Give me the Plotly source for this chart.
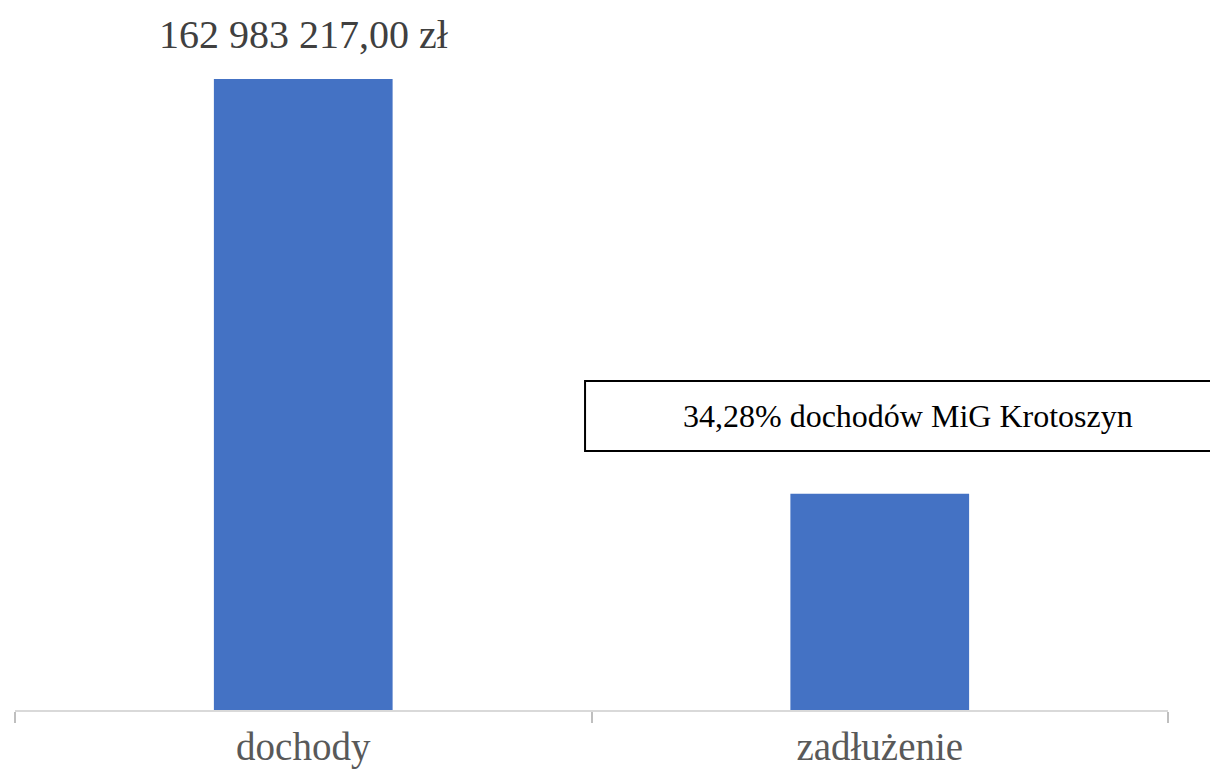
import plotly.graph_objects as go

categories = ["dochody", "zadłużenie"]
values = [162983217.00, 55870647.00]
note_text = "34,28% dochodów MiG Krotoszyn"

def fmt(v):
    return f"{v:,.2f}".replace(",", " ").replace(".", ",") + " zł"

BAR = "#4472C4"
FONT = "Liberation Serif, Times New Roman, serif"

fig = go.Figure()
fig.add_trace(go.Bar(x=categories, y=values, marker=dict(color=BAR, line=dict(width=0)),
                     width=0.31, hoverinfo="skip"))

ymax = values[0] * 690 / 631

fig.add_annotation(x=categories[0], y=values[0], xref="x", yref="y",
                   text=fmt(values[0]), showarrow=False, yanchor="middle", yshift=45,
                   font=dict(family=FONT, size=40, color="#404040"))

fig.add_shape(type="rect", xref="paper", yref="paper",
              x0=0.4944, x1=1.04, y0=0.3754, y1=0.4768,
              line=dict(color="black", width=2), fillcolor="white", layer="above")
fig.add_annotation(x=0.7745, y=0.426, xref="paper", yref="paper", text=note_text,
                   showarrow=False, xanchor="center", yanchor="middle",
                   font=dict(family=FONT, size=32, color="black"))

fig.update_layout(
    width=1210, height=775,
    margin=dict(l=15, r=42, t=20, b=65, autoexpand=False),
    paper_bgcolor="white", plot_bgcolor="white",
    showlegend=False,
    xaxis=dict(showline=True, linecolor="#D9D9D9", linewidth=2, automargin=False,
               ticks="outside", tickson="boundaries", ticklen=11, tickcolor="#BFBFBF", tickwidth=2,
               tickfont=dict(family=FONT, size=39, color="#595959"),
               ticklabelstandoff=1, showgrid=False, zeroline=False),
    yaxis=dict(range=[0, ymax], visible=False, showgrid=False, zeroline=False, automargin=False),
)

fig.write_html("out.html", config={"displayModeBar": False},
               post_script="document.body.style.margin='0';document.body.style.overflow='hidden';")
